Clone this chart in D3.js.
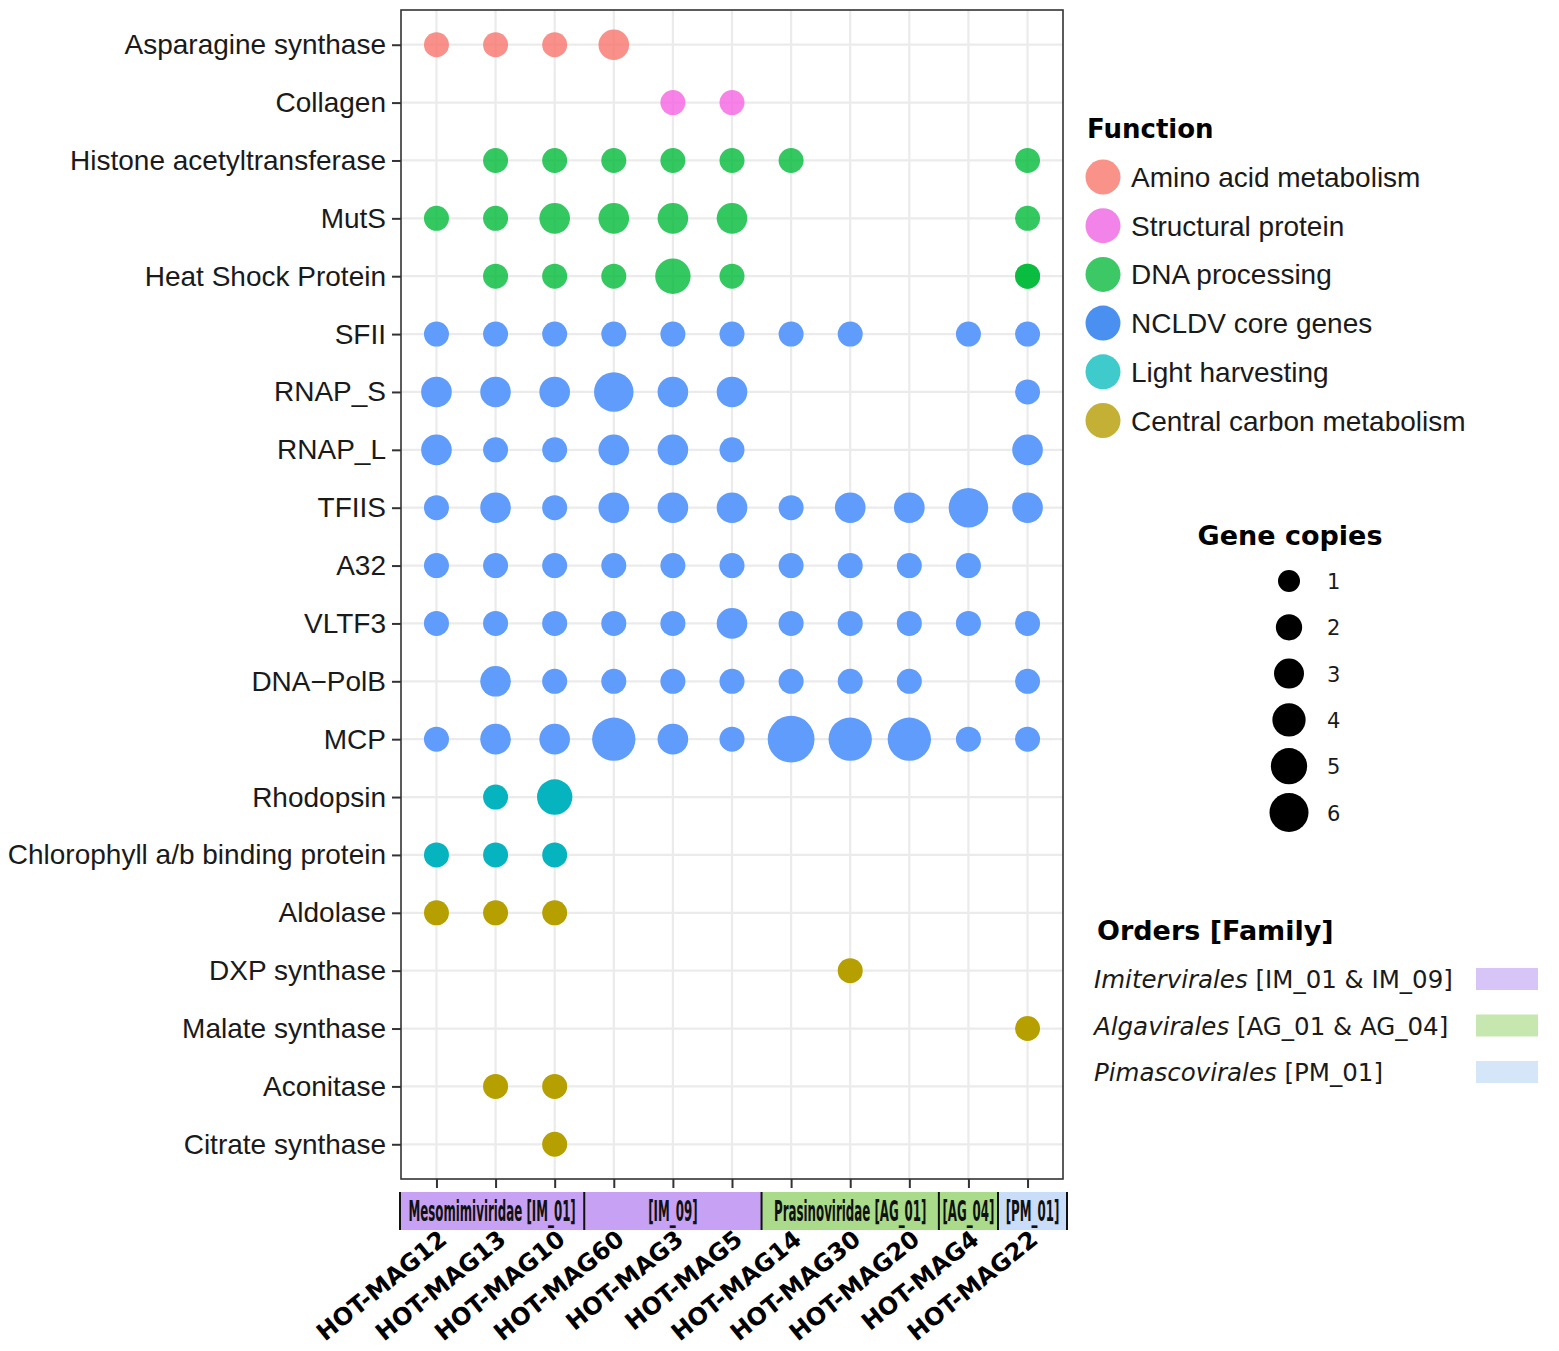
<!DOCTYPE html>
<html>
<head>
<meta charset="utf-8">
<script src="https://cdn.jsdelivr.net/npm/d3@7"></script>
<style>
  body { margin: 0; background: #fff; }
  svg { display: block; }
</style>
</head>
<body>
<script>
// gene rows, top to bottom
const genes = ["Asparagine synthase", "Collagen", "Histone acetyltransferase", "MutS",
    "Heat Shock Protein", "SFII", "RNAP_S", "RNAP_L", "TFIIS", "A32", "VLTF3", "DNA\u2212PolB",
    "MCP", "Rhodopsin", "Chlorophyll a/b binding protein", "Aldolase", "DXP synthase",
    "Malate synthase", "Aconitase", "Citrate synthase"];

const mags = ["HOT-MAG12", "HOT-MAG13", "HOT-MAG10", "HOT-MAG60", "HOT-MAG3", "HOT-MAG5",
    "HOT-MAG14", "HOT-MAG30", "HOT-MAG20", "HOT-MAG4", "HOT-MAG22"];

const functions = ["Amino acid metabolism", "Structural protein", "DNA processing",
    "NCLDV core genes", "Light harvesting", "Central carbon metabolism"];

// function index of every gene row
const geneFunction = [0, 1, 2, 2, 2, 3, 3, 3, 3, 3, 3, 3, 3, 4, 4, 5, 5, 5, 5, 5];

// gene copies, one row per gene, one column per MAG (0 = absent)
const copies = [
    [1, 1, 1, 2, 0, 0, 0, 0, 0, 0, 0],
    [0, 0, 0, 0, 1, 1, 0, 0, 0, 0, 0],
    [0, 1, 1, 1, 1, 1, 1, 0, 0, 0, 1],
    [1, 1, 2, 2, 2, 2, 0, 0, 0, 0, 1],
    [0, 1, 1, 1, 3, 1, 0, 0, 0, 0, 1],
    [1, 1, 1, 1, 1, 1, 1, 1, 0, 1, 1],
    [2, 2, 2, 4, 2, 2, 0, 0, 0, 0, 1],
    [2, 1, 1, 2, 2, 1, 0, 0, 0, 0, 2],
    [1, 2, 1, 2, 2, 2, 1, 2, 2, 4, 2],
    [1, 1, 1, 1, 1, 1, 1, 1, 1, 1, 0],
    [1, 1, 1, 1, 1, 2, 1, 1, 1, 1, 1],
    [0, 2, 1, 1, 1, 1, 1, 1, 1, 0, 1],
    [1, 2, 2, 5, 2, 1, 6, 5, 5, 1, 1],
    [0, 1, 3, 0, 0, 0, 0, 0, 0, 0, 0],
    [1, 1, 1, 0, 0, 0, 0, 0, 0, 0, 0],
    [1, 1, 1, 0, 0, 0, 0, 0, 0, 0, 0],
    [0, 0, 0, 0, 0, 0, 0, 1, 0, 0, 0],
    [0, 0, 0, 0, 0, 0, 0, 0, 0, 0, 1],
    [0, 1, 1, 0, 0, 0, 0, 0, 0, 0, 0],
    [0, 0, 1, 0, 0, 0, 0, 0, 0, 0, 0]
];

// second hit plotted on the same cell (overlapping point)
const duplicateHits = [["Heat Shock Protein", "HOT-MAG22", 1]];

const sizeBreaks = [1, 2, 3, 4, 5, 6];

// family strip under the x axis
const families = ["Mesomimiviridae [IM_01]", "[IM_09]", "Prasinoviridae [AG_01]", "[AG_04]", "[PM_01]"];
const familySize = [3, 3, 3, 1, 1];
const familyOrder = [0, 0, 1, 1, 2];
const orders = ["Imitervirales", "Algavirales", "Pimascovirales"];
const orderFamilies = ["[IM_01 & IM_09]", "[AG_01 & AG_04]", "[PM_01]"];

// colours
const pointColour = ["#f8766d", "#f564e3", "#00ba38", "#5f9cfb", "#06b4bf", "#b5a000"];
const pointOpacity = [0.8, 0.8, 0.8, 1, 1, 1];
const keyColour = ["#f9938a", "#f283e9", "#3cc864", "#4a90f0", "#3fcbcb", "#c4b035"];
const stripColour = ["#c6a1f4", "#a9db8b", "#c9ddf8"];
const orderKeyColour = ["#d8c5f7", "#c6e8b0", "#d6e6f9"];

const width = 1559, height = 1351;
const panel = { left: 401, top: 10, right: 1063, bottom: 1179 };

const svg = d3.select("body").append("svg")
    .attr("width", width)
    .attr("height", height);

var x = d3.scalePoint().domain(mags).range([panel.left, panel.right]).padding(0.6);
var y = d3.scalePoint().domain(genes).range([panel.top, panel.bottom]).padding(0.6);
var r = d3.scaleRadial().domain([1, 6]).range([12.5, 23.4]);
var rKey = d3.scaleRadial().domain([1, 6]).range([11, 19.5]);

// grid
svg.append("g").selectAll("line")
    .data(mags).enter().append("line")
    .attr("x1", d => x(d)).attr("x2", d => x(d))
    .attr("y1", panel.top).attr("y2", panel.bottom)
    .attr("stroke", "#ebebeb").attr("stroke-width", 2.2);
svg.append("g").selectAll("line")
    .data(genes).enter().append("line")
    .attr("y1", d => y(d)).attr("y2", d => y(d))
    .attr("x1", panel.left).attr("x2", panel.right)
    .attr("stroke", "#ebebeb").attr("stroke-width", 2.2);

// points
var points = [];
copies.forEach((row, i) => {
    row.forEach((v, j) => {
        if (v > 0) points.push({ gene: genes[i], mag: mags[j], value: v, fn: geneFunction[i] });
    });
});
duplicateHits.forEach(h => {
    points.push({ gene: h[0], mag: h[1], value: h[2], fn: geneFunction[genes.indexOf(h[0])] });
});

svg.append("g").selectAll("circle")
    .data(points).enter().append("circle")
    .attr("cx", d => x(d.mag))
    .attr("cy", d => y(d.gene))
    .attr("r", d => r(d.value))
    .attr("fill", d => pointColour[d.fn])
    .attr("fill-opacity", d => pointOpacity[d.fn]);

// panel border
svg.append("rect")
    .attr("x", panel.left).attr("y", panel.top)
    .attr("width", panel.right - panel.left).attr("height", panel.bottom - panel.top)
    .attr("fill", "none").attr("stroke", "#333333").attr("stroke-width", 1.6);

// y axis
var yAxis = svg.append("g")
    .attr("transform", "translate(" + panel.left + ",0)")
    .call(d3.axisLeft(y).tickSize(9).tickPadding(6));
yAxis.select(".domain").remove();
yAxis.selectAll(".tick line").attr("stroke", "#333333").attr("stroke-width", 2);
yAxis.selectAll(".tick text")
    .attr("fill", "#1a1a1a")
    .style("font-family", "'Liberation Sans', Arial, sans-serif")
    .style("font-size", "28px");

// x axis ticks
var xAxis = svg.append("g")
    .attr("transform", "translate(0," + panel.bottom + ")")
    .call(d3.axisBottom(x).tickSize(9).tickFormat(""));
xAxis.select(".domain").remove();
xAxis.selectAll(".tick line").attr("stroke", "#333333").attr("stroke-width", 2);

// family strip
var strip = { top: 1192, bottom: 1230, left: 400, right: 1067 };
var step = x.step();
var edges = [strip.left];
var acc = 0;
familySize.forEach((n, i) => {
    acc += n;
    edges.push(i === familySize.length - 1 ? strip.right : x(mags[acc - 1]) + step / 2);
});
var stripG = svg.append("g");
families.forEach((f, i) => {
    stripG.append("rect")
        .attr("x", edges[i]).attr("y", strip.top)
        .attr("width", edges[i + 1] - edges[i]).attr("height", strip.bottom - strip.top)
        .attr("fill", stripColour[familyOrder[i]]);
});
families.forEach((f, i) => {
    var w = edges[i + 1] - edges[i];
    var cx = (edges[i] + edges[i + 1]) / 2;
    var t = stripG.append("text")
        .attr("text-anchor", "middle")
        .style("font-family", "'DejaVu Sans Condensed', 'DejaVu Sans', sans-serif")
        .style("font-weight", "bold")
        .style("font-size", "28px")
        .attr("fill", "#111")
        .text(f);
    var natural = t.node().getComputedTextLength();
    var sx = Math.min(0.47, (w - 7) / natural);
    t.attr("transform", "translate(" + cx + "," + (strip.bottom - 9) + ") scale(" + sx + ",1)");
});
stripG.selectAll("line.sep")
    .data(edges).enter().append("line")
    .attr("x1", d => d).attr("x2", d => d)
    .attr("y1", strip.top).attr("y2", strip.bottom)
    .attr("stroke", "#111").attr("stroke-width", 2);

// x labels
svg.append("g").selectAll("text")
    .data(mags).enter().append("text")
    .attr("transform", d => "translate(" + (x(d) + 12) + "," + 1242 + ") rotate(-39)")
    .attr("text-anchor", "end")
    .style("font-family", "'DejaVu Sans', sans-serif")
    .style("font-weight", "bold")
    .style("font-size", "24px")
    .attr("fill", "#000")
    .text(d => d);

// legend: function
var fnLegend = svg.append("g");
fnLegend.append("text")
    .attr("x", 1087).attr("y", 138)
    .style("font-family", "'DejaVu Sans', sans-serif")
    .style("font-weight", "bold").style("font-size", "26px")
    .text("Function");
var fnItem = fnLegend.selectAll("g.item")
    .data(functions).enter().append("g")
    .attr("transform", (d, i) => "translate(1103," + (177 + i * 48.7) + ")");
fnItem.append("circle").attr("r", 17.5).attr("fill", (d, i) => keyColour[i]);
fnItem.append("text")
    .attr("x", 28).attr("y", 10)
    .style("font-family", "'Liberation Sans', Arial, sans-serif")
    .style("font-size", "28px")
    .attr("fill", "#1a1a1a")
    .text(d => d);

// legend: gene copies
var sizeLegend = svg.append("g");
sizeLegend.append("text")
    .attr("x", 1290).attr("y", 545)
    .attr("text-anchor", "middle")
    .style("font-family", "'DejaVu Sans', sans-serif")
    .style("font-weight", "bold").style("font-size", "27px")
    .text("Gene copies");
var sizeItem = sizeLegend.selectAll("g.item")
    .data(sizeBreaks).enter().append("g")
    .attr("transform", (d, i) => "translate(1289," + (581 + i * 46.3) + ")");
sizeItem.append("circle").attr("r", d => rKey(d)).attr("fill", "#000");
sizeItem.append("text")
    .attr("x", 38).attr("y", 8)
    .style("font-family", "'DejaVu Sans', sans-serif")
    .style("font-size", "21px")
    .attr("fill", "#1a1a1a")
    .text(d => d);

// legend: orders
var ordLegend = svg.append("g");
ordLegend.append("text")
    .attr("x", 1097).attr("y", 940)
    .style("font-family", "'DejaVu Sans', sans-serif")
    .style("font-weight", "bold").style("font-size", "27px")
    .text("Orders [Family]");
var ordItem = ordLegend.selectAll("g.item")
    .data(orders).enter().append("g")
    .attr("transform", (d, i) => "translate(0," + (979 + i * 46.5) + ")");
var ordText = ordItem.append("text")
    .attr("x", 1094).attr("y", 9)
    .style("font-family", "'DejaVu Sans', sans-serif")
    .style("font-size", "24.5px")
    .attr("fill", "#1a1a1a");
ordText.append("tspan").style("font-style", "italic").text(d => d);
ordText.append("tspan").text((d, i) => " " + orderFamilies[i]);
ordItem.append("rect")
    .attr("x", 1476).attr("y", -11)
    .attr("width", 62).attr("height", 22)
    .attr("fill", (d, i) => orderKeyColour[i]);
</script>
</body>
</html>
